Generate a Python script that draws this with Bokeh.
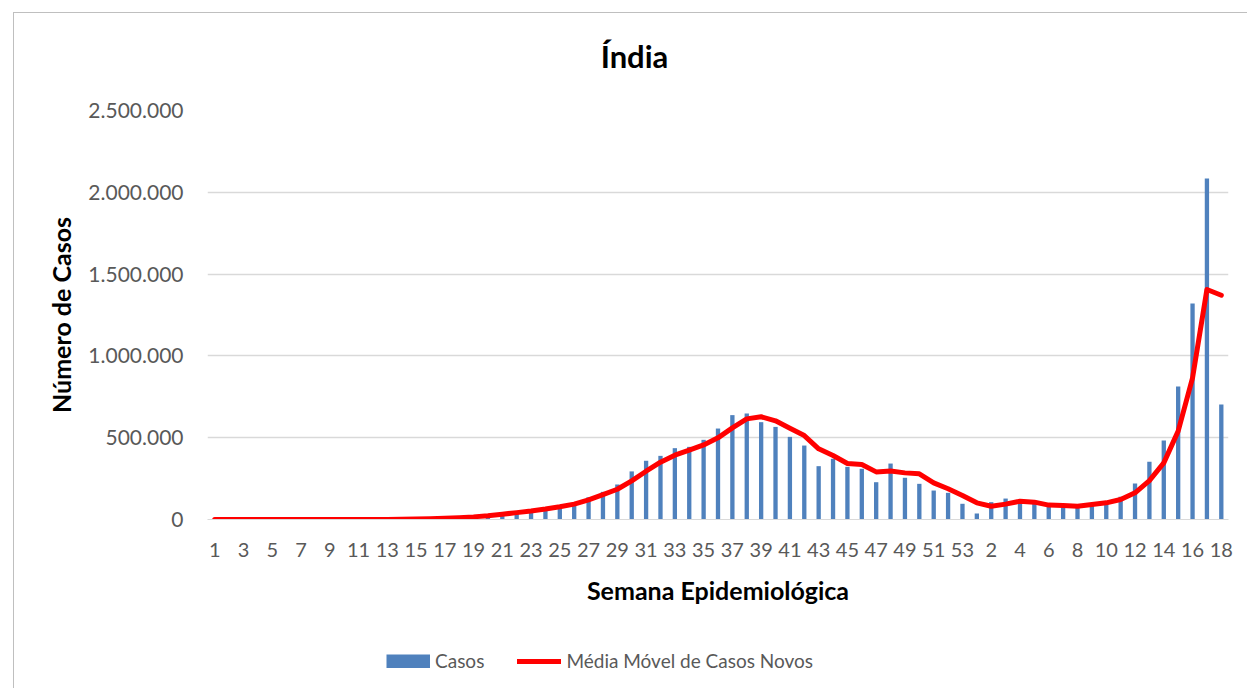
from bokeh.plotting import figure
from bokeh.models import ColumnDataSource, FixedTicker, Legend, LegendItem, Label
from bokeh.layouts import column
from bokeh.embed import file_html
from bokeh.resources import INLINE

# ---------------- data ----------------
semanas = ["1", "2", "3", "4", "5", "6", "7", "8", "9", "10",
           "11", "12", "13", "14", "15", "16", "17", "18", "19", "20",
           "21", "22", "23", "24", "25", "26", "27", "28", "29", "30",
           "31", "32", "33", "34", "35", "36", "37", "38", "39", "40",
           "41", "42", "43", "44", "45", "46", "47", "48", "49", "50",
           "51", "52", "53",
           "1", "2", "3", "4", "5", "6", "7", "8", "9", "10",
           "11", "12", "13", "14", "15", "16", "17", "18"]

casos = [0, 0, 0, 0, 0, 0, 0, 0, 0, 40,
         80, 400, 1000, 3000, 5500, 8000, 12000, 17000, 22000, 27000,
         32000, 42000, 53000, 66000, 80000, 106000, 136000, 169000, 214000, 294000,
         359000, 389000, 436000, 444000, 487000, 556000, 638000, 648000, 595000, 566000,
         505000, 452000, 326000, 371000, 322000, 310000, 228000, 342000, 255000, 218000,
         177000, 163000, 96000,
         37000, 106000, 128000, 110000, 102000, 86000, 81000, 86000, 92000, 102000,
         139000, 220000, 353000, 483000, 813000, 1320000, 2084000, 703000]

media_movel = [0, 0, 0, 0, 0, 0, 0, 0, 0, 0,
               0, 100, 400, 1200, 2500, 4500, 7500, 11000, 16000, 23000,
               32000, 42000, 52000, 64000, 78000, 94000, 120000, 152000, 185000, 236000,
               295000, 350000, 393000, 424000, 456000, 499000, 560000, 615000, 628000, 603000,
               558000, 513000, 432000, 391000, 342000, 336000, 291000, 296000, 285000, 279000,
               224000, 188000, 147000,
               102000, 81000, 94000, 112000, 106000, 88000, 86000, 81000, 92000, 102000,
               122000, 163000, 238000, 346000, 540000, 866000, 1406000, 1371000]

y_ticks = [0, 500000, 1000000, 1500000, 2000000, 2500000]
y_tick_labels = ["0", "500.000", "1.000.000", "1.500.000", "2.000.000", "2.500.000"]

titulo = "Índia"
rotulo_x = "Semana Epidemiológica"
rotulo_y = "Número de Casos"
nome_barras = "Casos"
nome_linha = "Média Móvel de Casos Novos"

# ---------------- build ----------------
idx = list(range(1, len(semanas) + 1))
src = ColumnDataSource(dict(x=idx, casos=casos, mm=media_movel, semana=semanas))

FONT = "Lato"
GRAY = "#595959"
BAR_COLOR = "#4f81bd"
LINE_COLOR = "#ff0000"
BORDER = "1px solid #bfbfbf"


def bare_strip(height, margin, styles):
    f = figure(width=1234, height=height, output_backend="svg", toolbar_location=None,
               x_range=(0, 1), y_range=(0, 1), min_border=0,
               x_axis_type=None, y_axis_type=None)
    f.margin = margin
    f.styles = styles
    f.outline_line_color = None
    f.xgrid.grid_line_color = None
    f.ygrid.grid_line_color = None
    return f


# title strip
pt = bare_strip(72, (12, 0, 0, 13), {"border-left": BORDER, "border-top": BORDER})
pt.add_layout(Label(x=427, y=30, x_units="screen", y_units="screen", text=titulo,
                    text_font=FONT, text_font_style="bold", text_font_size="31px",
                    text_align="center", text_baseline="middle", text_color="black"))

# main chart
p = figure(width=1234, height=535, output_backend="svg", toolbar_location=None,
           x_range=(0.5, len(semanas) + 0.5), y_range=(0, 2500000),
           min_border_left=193, min_border_right=20, min_border_top=26,
           min_border_bottom=100)
p.margin = (0, 0, 0, 13)
p.styles = {"border-left": BORDER}
p.outline_line_color = None
p.background_fill_color = "white"
p.border_fill_color = "white"

p.vbar(x="x", top="casos", width=0.3, source=src,
       fill_color=BAR_COLOR, line_color=None)
p.line(x="x", y="mm", source=src, line_color=LINE_COLOR, line_width=5,
       line_join="round", line_cap="round")

p.xaxis.ticker = FixedTicker(ticks=idx[::2])
p.xaxis.major_label_overrides = {i: s for i, s in zip(idx, semanas)}
p.yaxis.ticker = FixedTicker(ticks=y_ticks)
p.yaxis.major_label_overrides = {t: s for t, s in zip(y_ticks, y_tick_labels)}

for ax in (p.xaxis[0], p.yaxis[0]):
    ax.major_tick_line_color = None
    ax.minor_tick_line_color = None
    ax.major_label_text_font = FONT
    ax.major_label_text_color = GRAY
    ax.axis_label_text_font = FONT
    ax.axis_label_text_font_style = "bold"
    ax.axis_label_text_color = "black"

p.xaxis.axis_label_text_font_size = "25px"
p.yaxis.axis_label_text_font_size = "25px"
p.xaxis.axis_line_color = "#d9d9d9"
p.yaxis.axis_line_color = None
p.xaxis.major_label_text_font_size = "20px"
p.yaxis.major_label_text_font_size = "21px"
p.xaxis.major_label_standoff = 17
p.yaxis.major_label_standoff = 18
p.xaxis.axis_label = rotulo_x
p.yaxis.axis_label = rotulo_y
p.xaxis.axis_label_standoff = 15
p.yaxis.axis_label_standoff = 9

p.xgrid.grid_line_color = None
p.ygrid.grid_line_color = "#d9d9d9"
p.ygrid.grid_line_width = 1.3

# legend strip
p2 = bare_strip(69, (0, 0, 0, 13), {"border-left": BORDER})
# legend-only renderers, placed outside the visible range
leg_bar = p2.line(x=[-10, -9], y=[-10, -10], line_color=BAR_COLOR, line_width=14,
                  line_cap="butt")
leg_line = p2.line(x=[-10, -9], y=[-10, -10], line_color=LINE_COLOR, line_width=5,
                   line_cap="round")

legend = Legend(items=[LegendItem(label=nome_barras, renderers=[leg_bar]),
                       LegendItem(label=nome_linha, renderers=[leg_line])],
                orientation="horizontal", location=(179, 16),
                glyph_width=44, glyph_height=14, label_standoff=5, spacing=33,
                padding=0, margin=0, border_line_color=None,
                background_fill_alpha=0,
                label_text_font=FONT, label_text_font_size="19px",
                label_text_color=GRAY)
p2.add_layout(legend, "center")

layout = column(pt, p, p2, spacing=0)
open("out.html", "w").write(file_html(layout, INLINE))
